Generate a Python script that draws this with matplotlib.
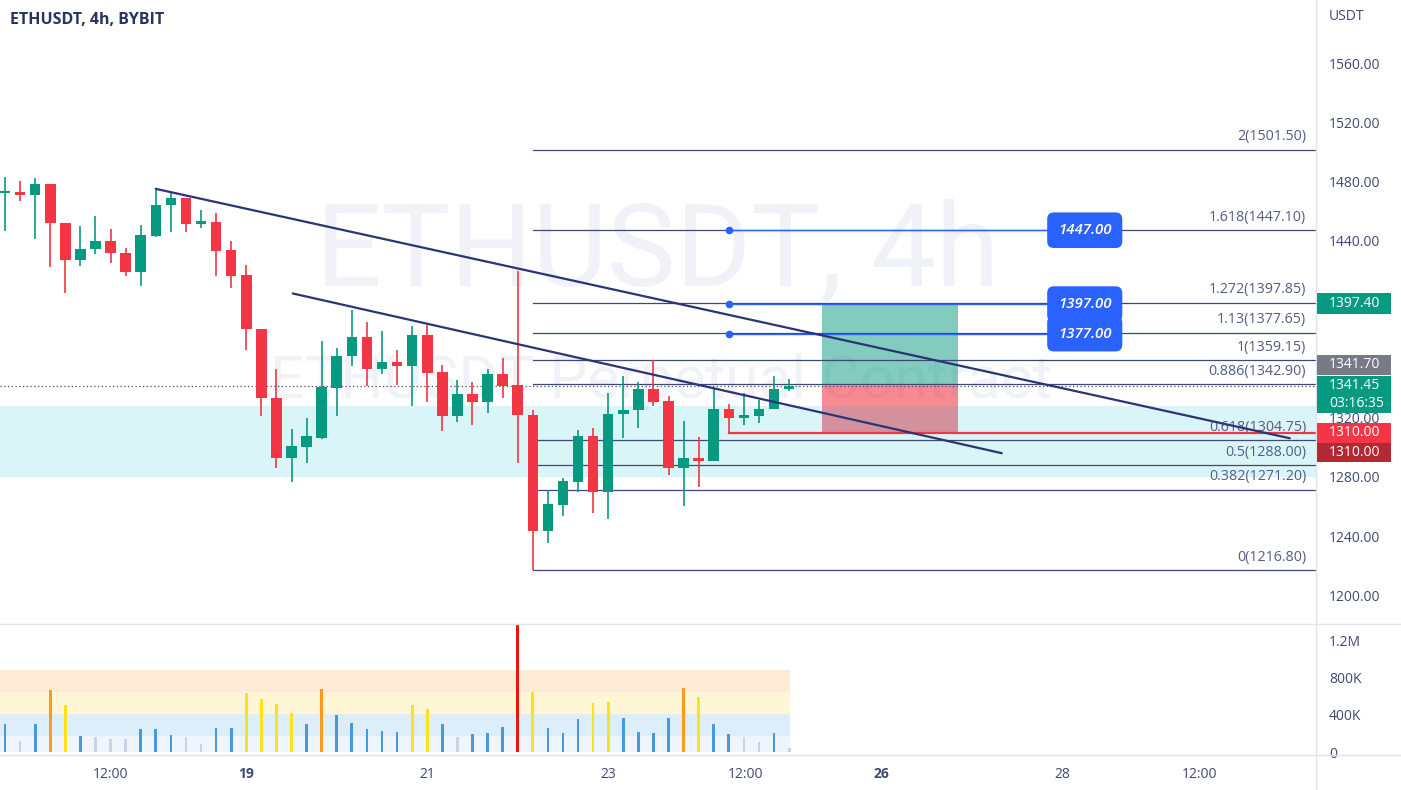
import matplotlib
matplotlib.use('Agg')
import matplotlib.pyplot as plt
from matplotlib.patches import Rectangle
from matplotlib.lines import Line2D
import numpy as np

plt.rcParams['font.family'] = ['Open Sans', 'DejaVu Sans']

W, H = 1401, 790

# ---------------- data ----------------
opens = [1472.0, 1473.0, 1470.7, 1478.0, 1452.0, 1427.0, 1434.0, 1440.0, 1431.6, 1418.5,
         1443.4, 1464.0, 1468.5, 1451.0, 1452.6, 1433.4, 1417.0, 1380.1, 1333.4, 1293.0,
         1300.6, 1306.6, 1340.5, 1361.6, 1375.0, 1353.4, 1358.0, 1354.8, 1376.3, 1351.0,
         1321.4, 1336.3, 1331.0, 1349.6, 1342.2, 1321.8, 1243.6, 1261.0, 1276.8, 1307.8,
         1270.0, 1322.5, 1325.0, 1339.5, 1331.5, 1286.3, 1292.7, 1290.8, 1326.0, 1320.2,
         1321.6, 1325.9, 1339.5]
highs = [1482.7, 1480.2, 1482.0, 1478.5, 1452.0, 1449.7, 1456.5, 1447.5, 1435.0, 1450.4,
         1475.3, 1473.0, 1469.0, 1461.0, 1458.8, 1439.5, 1423.7, 1380.1, 1353.0, 1312.3,
         1319.8, 1371.8, 1367.2, 1393.2, 1384.6, 1378.5, 1366.0, 1382.0, 1383.0, 1356.0,
         1345.8, 1344.6, 1353.0, 1360.5, 1419.2, 1325.4, 1271.2, 1279.1, 1311.9, 1313.4,
         1336.7, 1348.5, 1344.6, 1359.3, 1335.0, 1318.0, 1307.3, 1340.5, 1329.5, 1336.7,
         1332.2, 1348.5, 1346.6]
lows = [1446.3, 1466.6, 1441.0, 1422.2, 1404.5, 1423.0, 1431.0, 1425.0, 1416.0, 1409.5,
        1442.5, 1445.6, 1445.6, 1448.6, 1416.3, 1408.0, 1366.0, 1321.0, 1286.0, 1276.8,
        1289.3, 1306.0, 1321.4, 1355.3, 1341.7, 1349.8, 1342.4, 1328.0, 1331.0, 1311.4,
        1317.0, 1315.3, 1323.0, 1333.4, 1289.3, 1216.8, 1235.5, 1253.6, 1270.0, 1255.4,
        1251.3, 1306.6, 1313.4, 1327.7, 1281.4, 1260.3, 1273.4, 1290.8, 1310.0, 1315.3,
        1316.4, 1326.0, 1338.5]
closes = [1473.0, 1470.7, 1478.0, 1452.0, 1427.0, 1434.0, 1440.0, 1431.6, 1418.5, 1444.0,
          1464.4, 1468.5, 1451.0, 1453.0, 1432.7, 1416.3, 1380.1, 1333.4, 1293.1, 1301.0,
          1307.4, 1341.2, 1362.0, 1375.0, 1353.4, 1358.0, 1354.8, 1376.3, 1350.7, 1321.4,
          1336.3, 1331.0, 1349.6, 1341.7, 1321.8, 1243.6, 1261.7, 1277.3, 1307.8, 1270.0,
          1322.7, 1325.4, 1339.5, 1331.0, 1286.3, 1292.7, 1291.0, 1326.0, 1320.2, 1322.0,
          1326.0, 1339.5, 1341.45]
volumes_k = [304, 126, 301, 667, 507, 176, 169, 141, 141, 247,
             247, 190, 162, 91, 265, 265, 638, 567, 517, 425,
             304, 681, 400, 318, 254, 233, 219, 507, 461, 304,
             162, 197, 211, 275, 2400, 649, 265, 211, 361, 531,
             542, 371, 222, 211, 371, 691, 589, 304, 194, 162,
             115, 205, 45]

vol_band_edges = [0, 176, 407, 649, 880]
vol_band_colors = ['#EEF5FC', '#DDEEFB', '#FFF6D5', '#FDEAD7']
vol_bar_colors = ['#C6D4E6', '#4898E0', '#FFE21A', '#FF9A1F', '#E5170E']
vol_color_limits = [173, 410, 655, 880]

fib_ratios = ['0', '0.382', '0.5', '0.618', '0.886', '1', '1.13', '1.272', '1.618', '2']
fib_prices = [1216.80, 1271.20, 1288.00, 1304.75, 1342.90, 1359.15, 1377.65, 1397.85, 1447.10, 1501.50]
fib_start = 35

target_prices = [1447.00, 1397.00, 1377.00]
target_start = 48
target_label_x = 71.6

trend_a_x, trend_a_y = [10.0, 85.2], [1475.0, 1306.2]
trend_b_x, trend_b_y = [19.08, 66.1], [1404.2, 1296.1]

zone_low, zone_high = 1280.0, 1328.1

entry_price, target_price, stop_price = 1341.70, 1397.40, 1310.00
position_x0, position_x1 = 54.2, 63.2
stop_line_start = 48
last_price = 1341.45
countdown = '03:16:35'

price_ticks = [1200, 1240, 1280, 1320, 1440, 1480, 1520, 1560]
vol_ticks = [0, 400, 800, 1200]
vol_tick_labels = ['0', '400K', '800K', '1.2M']
time_tick_pos = [7, 16, 28, 40, 49.1, 58.1, 70.1, 79.2]
time_tick_labels = ['12:00', '19', '21', '23', '12:00', '26', '28', '12:00']
bold_time_labels = ['19', '26']

# ---------------- style ----------------
UP, DOWN = '#089981', '#F23645'
NAVY = '#2B3476'
FIB_COL = '#3E4878'
FIB_TXT = '#525C86'
AXIS_TXT = '#3F4870'
GRID_COL = '#E0E3EB'
BLUE = '#2962FF'

fig = plt.figure(figsize=(W / 100, H / 100), dpi=100)
ax = fig.add_axes([0, 166 / H, 1316 / W, 624 / H])
axv = fig.add_axes([0, 35 / H, 1316 / W, 131 / H])

X0, X1 = -5 / 15.08, (1316 - 5) / 15.08
for a in (ax, axv):
    a.set_xlim(X0, X1)
    for s in a.spines.values():
        s.set_visible(False)
    a.set_facecolor('none')
ax.set_ylim(1180.5, 1602.8)
axv.set_ylim(-27, 1371)

# watermark
ax.text(0.5, 0.593, 'ETHUSDT, 4h', transform=ax.transAxes, ha='center', va='center',
        fontsize=83, color='#F0F2F7', family='Roboto', zorder=0)
ax.text(0.502, 0.389, 'ETHUSDT Perpetual Contract', transform=ax.transAxes, ha='center',
        va='center', fontsize=43.5, color='#F0F2F7', family='Roboto', zorder=0)

# position tool
ax.add_patch(Rectangle((position_x0, entry_price), position_x1 - position_x0,
                       target_price - entry_price, facecolor=UP, alpha=0.5, lw=0, zorder=1))
ax.add_patch(Rectangle((position_x0, stop_price), position_x1 - position_x0,
                       entry_price - stop_price, facecolor=DOWN, alpha=0.58, lw=0, zorder=1))

# zone
ax.add_patch(Rectangle((X0, zone_low), X1 - X0, zone_high - zone_low,
                       facecolor='#00BCD4', alpha=0.15, lw=0, zorder=1.5))

# fib levels
for r, p in zip(fib_ratios, fib_prices):
    ax.plot([fib_start, X1], [p, p], color=FIB_COL, lw=0.9, zorder=2)
    ax.annotate(f'{r}({p:.2f})', xy=(1, p), xycoords=('axes fraction', 'data'),
                xytext=(-10, 13), textcoords='offset pixels', ha='right', va='center',
                fontsize=10.3, color=FIB_TXT, zorder=3)

# target levels
for p in target_prices:
    ax.plot([target_start, target_label_x], [p, p], color=BLUE, lw=1.0, zorder=2.2)
    ax.plot([target_start], [p], 'o', color=BLUE, ms=4.5, zorder=2.3)
    ax.text(target_label_x, p, f'{p:.2f}', ha='center', va='center', fontsize=10.8,
            style='italic', fontweight='semibold', color='white', zorder=6,
            bbox=dict(boxstyle='round,pad=0.72,rounding_size=0.45', fc=BLUE, ec='none'))

# stop line
ax.plot([stop_line_start, X1], [stop_price, stop_price], color=DOWN, lw=1.6, zorder=2.5)

# current price dotted line
ax.plot([X0, X1], [last_price, last_price], color='#4A4E5C', lw=0.9,
        ls=(0, (1, 2)), zorder=2.4)

# candles
idx = np.arange(len(opens))
o, h, l, c = map(np.array, (opens, highs, lows, closes))
cols = [UP if cc >= oo else DOWN for oo, cc in zip(o, c)]
ax.vlines(idx, l, h, colors=cols, lw=1.2, zorder=3)
bottoms = np.minimum(o, c)
heights = np.maximum(np.abs(c - o), 1.3)
ax.bar(idx, heights, bottom=bottoms, width=0.7, color=cols, lw=0, zorder=3.1)

# trendlines
ax.plot(trend_a_x, trend_a_y, color=NAVY, lw=1.6, zorder=4, solid_capstyle='round')
ax.plot(trend_b_x, trend_b_y, color=NAVY, lw=1.6, zorder=4, solid_capstyle='round')

# axes ticks (main)
ax.set_xticks([])
ax.yaxis.tick_right()
ax.set_yticks(price_ticks)
ax.set_yticklabels([f'{p:.2f}' for p in price_ticks])
ax.tick_params(axis='y', length=0, pad=9.4, labelsize=10, labelcolor=AXIS_TXT)

# volume panel
band_end = len(volumes_k) - 1 + 0.05
for lo, hi, bc in zip(vol_band_edges[:-1], vol_band_edges[1:], vol_band_colors):
    axv.fill_between([X0, band_end], lo, hi, color=bc, lw=0, zorder=0)


def vol_color(v):
    for lim, col in zip(vol_color_limits, vol_bar_colors):
        if v < lim:
            return col
    return vol_bar_colors[-1]


axv.bar(idx, volumes_k, width=0.18, color=[vol_color(v) for v in volumes_k], lw=0, zorder=2)
axv.yaxis.tick_right()
axv.set_yticks(vol_ticks)
axv.set_yticklabels(vol_tick_labels)
axv.tick_params(axis='y', length=0, pad=9.4, labelsize=10, labelcolor=AXIS_TXT)
axv.set_xticks(time_tick_pos)
axv.set_xticklabels(time_tick_labels)
axv.tick_params(axis='x', length=0, pad=8.5, labelsize=10, labelcolor=AXIS_TXT)
for lbl in axv.get_xticklabels():
    if lbl.get_text() in bold_time_labels:
        lbl.set_fontweight('bold')

# separators
fig.add_artist(Line2D([1316 / W, 1316 / W], [0, 1], transform=fig.transFigure, color=GRID_COL, lw=1))
fig.add_artist(Line2D([0, 1], [1 - 624 / H, 1 - 624 / H], transform=fig.transFigure, color=GRID_COL, lw=1))
fig.add_artist(Line2D([0, 1], [1 - 755 / H, 1 - 755 / H], transform=fig.transFigure, color=GRID_COL, lw=1))

# title and unit
fig.text(10 / W, 1 - 20 / H, 'ETHUSDT, 4h, BYBIT', fontsize=11.5, fontweight='bold',
         color='#2A3360', va='center', ha='left')
fig.text(1329 / W, 1 - 17 / H, 'USDT', fontsize=10, color=AXIS_TXT, va='center', ha='left')


# right-axis price labels
def price_ypx(p):
    return H - ax.transData.transform((0, p))[1]


def axis_box(yc, hgt, color, lines, width=74):
    fig.add_artist(Rectangle((1317 / W, 1 - (yc + hgt / 2) / H), width / W, hgt / H,
                             transform=fig.transFigure, facecolor=color, lw=0, zorder=5))
    n = len(lines)
    for k, t in enumerate(lines):
        ty = yc + (k - (n - 1) / 2) * 18
        fig.text(1329 / W, 1 - ty / H, t, fontsize=10, color='white', va='center',
                 ha='left', zorder=6)


axis_box(price_ypx(target_price), 21, UP, [f'{target_price:.2f}'])
axis_box(price_ypx(entry_price) - 21, 20, '#787B86', [f'{entry_price:.2f}'])
axis_box(price_ypx(last_price) + 8.5, 37, UP, [f'{last_price:.2f}', countdown])
axis_box(price_ypx(stop_price), 20, '#F23645', [f'{stop_price:.2f}'])
axis_box(price_ypx(stop_price) + 20, 19, '#B22833', [f'{stop_price:.2f}'])

fig.savefig('out.png', dpi=100)
